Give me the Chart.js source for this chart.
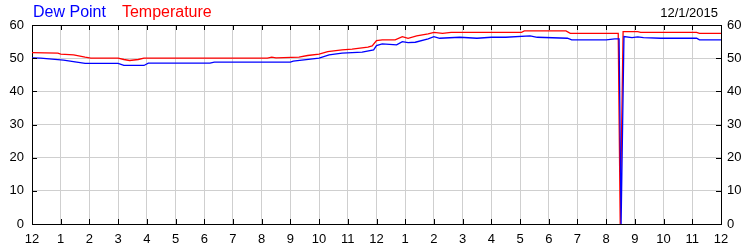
<!DOCTYPE html>
<html>
<head>
<meta charset="utf-8">
<script src="https://cdn.jsdelivr.net/npm/chart.js@4/dist/chart.umd.min.js"></script>
<style>
  body { margin: 0; background: #fff; }
  canvas { display: block; }
</style>
</head>
<body>
<canvas id="weather" width="750" height="250"></canvas>
<script>
// hours since midnight, 12/1/2015
const dateLabel = '12/1/2015';

const tempHours = [0, 0.9, 1.0, 1.45, 1.85, 2.05, 3.0, 3.2, 3.4, 3.7, 3.9, 8.2, 8.35, 8.5, 9.3, 9.6,
  10.0, 10.3, 10.8, 11.15, 11.7, 11.85, 12.0, 12.2, 12.65, 12.9, 13.1, 13.4, 13.8, 14.0, 14.3, 14.6,
  17.05, 17.15, 18.6, 18.75, 20.42, 20.49, 20.59, 21.1, 21.2, 23.15, 23.25, 24];
const tempValues = [51.7, 51.5, 51.2, 51.0, 50.3, 50.0, 50.0, 49.6, 49.3, 49.6, 50.0, 50.0, 50.3, 50.1, 50.3, 50.8,
  51.2, 52.0, 52.5, 52.7, 53.3, 53.7, 55.3, 55.5, 55.5, 56.5, 56.0, 56.7, 57.3, 57.8, 57.5, 57.8,
  57.8, 58.2, 58.2, 57.5, 57.5, 0, 58.0, 58.0, 57.8, 57.8, 57.5, 57.5];

const dewHours = [0, 0.3, 1.1, 1.5, 1.85, 3.0, 3.2, 3.9, 4.05, 6.2, 6.35, 9.0, 9.1, 10.0, 10.35, 10.8,
  11.5, 11.9, 12.0, 12.2, 12.7, 12.9, 13.1, 13.35, 13.8, 14.0, 14.2, 14.9, 15.5, 16.0, 16.5, 17.35,
  17.6, 18.65, 18.8, 20.0, 20.3, 20.45, 20.52, 20.62, 20.9, 21.1, 21.3, 21.9, 23.15, 23.25, 24];
const dewValues = [50.1, 50.0, 49.4, 48.9, 48.4, 48.4, 47.8, 47.8, 48.5, 48.5, 48.8, 48.8, 49.1, 50.0, 51.0, 51.5,
  51.8, 52.5, 53.8, 54.3, 54.0, 55.0, 54.7, 54.8, 55.8, 56.5, 56.0, 56.3, 56.0, 56.3, 56.3, 56.7,
  56.3, 56.0, 55.5, 55.5, 55.8, 55.8, 0, 56.5, 56.2, 56.4, 56.2, 56.0, 56.0, 55.5, 55.5];

const toPoints = (hours, values) => hours.map((h, i) => ({ x: h, y: values[i] }));

const hourLabel = (value) => {
  const h = value % 12;
  return h === 0 ? '12' : String(h);
};

const FONT = 'Arial, "Liberation Sans", sans-serif';
const GRID = '#cfcfcf';
const TICK = 5;

// series names in their own colour plus the date, in the top strip
const headerText = {
  id: 'headerText',
  afterDraw(chart) {
    const { ctx } = chart;
    ctx.save();
    ctx.font = `16px ${FONT}`;
    ctx.textBaseline = 'alphabetic';
    ctx.textAlign = 'left';
    let x = 33;
    chart.data.datasets.forEach((ds) => {
      ctx.fillStyle = ds.borderColor;
      ctx.fillText(ds.label, x, 17);
      x += ctx.measureText(ds.label).width + 16;
    });
    ctx.font = `13px ${FONT}`;
    ctx.fillStyle = '#000';
    ctx.textAlign = 'right';
    ctx.fillText(dateLabel, 718, 17);
    ctx.restore();
  },
};

// small black tick marks pointing into the plot on all four sides
const innerTicks = {
  id: 'innerTicks',
  afterDraw(chart) {
    const { ctx, chartArea: { left, right, top, bottom } } = chart;
    const { x, y } = chart.scales;
    ctx.save();
    ctx.strokeStyle = '#000';
    ctx.lineWidth = 1;
    ctx.beginPath();
    x.ticks.forEach((t) => {
      const px = Math.round(x.getPixelForValue(t.value)) + 0.5;
      ctx.moveTo(px, top);
      ctx.lineTo(px, top + TICK);
      ctx.moveTo(px, bottom);
      ctx.lineTo(px, bottom - TICK);
    });
    y.ticks.forEach((t) => {
      const py = Math.round(y.getPixelForValue(t.value)) + 0.5;
      ctx.moveTo(left, py);
      ctx.lineTo(left + TICK, py);
      ctx.moveTo(right, py);
      ctx.lineTo(right - TICK, py);
    });
    ctx.stroke();
    ctx.restore();
  },
};

const plainGrid = (onChart) => ({
  display: true,
  drawOnChartArea: onChart,
  drawTicks: false,
  color: GRID,
});

new Chart(document.getElementById('weather'), {
  type: 'line',
  data: {
    datasets: [
      {
        label: 'Dew Point',
        data: toPoints(dewHours, dewValues),
        borderColor: '#0000ff',
        borderWidth: 1.3,
        pointRadius: 0,
        tension: 0,
      },
      {
        label: 'Temperature',
        data: toPoints(tempHours, tempValues),
        borderColor: '#ff0000',
        borderWidth: 1.3,
        pointRadius: 0,
        tension: 0,
      },
    ],
  },
  options: {
    responsive: false,
    animation: false,
    events: [],
    layout: { padding: { top: 25, left: 0, right: 0, bottom: 0 } },
    plugins: { legend: { display: false }, tooltip: { enabled: false } },
    scales: {
      x: {
        type: 'linear',
        position: 'bottom',
        min: 0,
        max: 24,
        grid: plainGrid(true),
        border: { color: '#000', width: 1 },
        ticks: {
          stepSize: 1,
          autoSkip: false,
          maxRotation: 0,
          padding: 8,
          color: '#000',
          font: { family: FONT, size: 13 },
          callback: hourLabel,
        },
        afterFit: (scale) => { scale.height = 26; },
      },
      xTop: {
        type: 'linear',
        position: 'top',
        min: 0,
        max: 24,
        grid: plainGrid(false),
        border: { color: '#000', width: 1 },
        ticks: { stepSize: 1, display: false },
        afterFit: (scale) => { scale.height = 0; },
      },
      y: {
        position: 'left',
        min: 0,
        max: 60,
        grid: plainGrid(true),
        border: { color: '#000', width: 1 },
        ticks: {
          stepSize: 10,
          padding: 8,
          color: '#000',
          font: { family: FONT, size: 13 },
        },
        afterFit: (scale) => { scale.width = 32; },
      },
      yRight: {
        position: 'right',
        min: 0,
        max: 60,
        grid: plainGrid(false),
        border: { color: '#000', width: 1 },
        ticks: {
          stepSize: 10,
          padding: 6,
          color: '#000',
          font: { family: FONT, size: 13 },
        },
        afterFit: (scale) => { scale.width = 29; },
      },
    },
  },
  plugins: [headerText, innerTicks],
});
</script>
</body>
</html>
